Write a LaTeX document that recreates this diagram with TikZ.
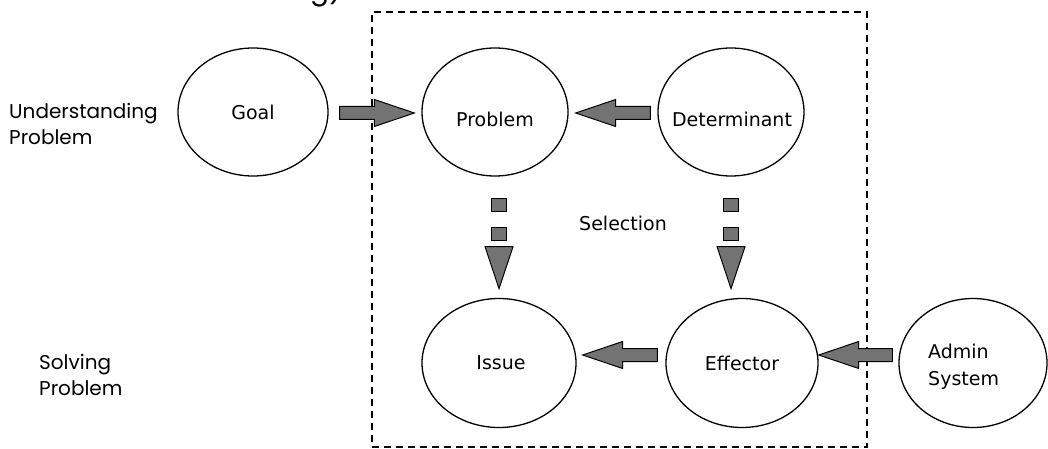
\documentclass[tikz,border=0pt]{standalone}
\usepackage{fontspec}
\usetikzlibrary{calc,shapes.geometric}
\newfontfamily\bubblefont{DejaVu Sans}
\newfontfamily\sidefont{Poppins}
\definecolor{arrowgray}{HTML}{737373}

% thick block arrow from tail point #1 to tip point #2
\newcommand\blockarrow[2]{%
  \coordinate (ba-t) at (#1);
  \coordinate (ba-p) at (#2);
  \coordinate (ba-c) at ($(ba-p)!40pt!(ba-t)$);
  \filldraw[arrowbody]
    ($(ba-t)!6.5pt!90:(ba-p)$) -- ($(ba-c)!6.5pt!90:(ba-p)$) --
    ($(ba-c)!13.5pt!90:(ba-p)$) -- (ba-p) --
    ($(ba-c)!13.5pt!-90:(ba-p)$) -- ($(ba-c)!6.5pt!-90:(ba-p)$) --
    ($(ba-t)!6.5pt!-90:(ba-p)$) -- cycle;
}
% broken downward arrow: two squares and a triangle below point #1
\newcommand\brokenarrow[1]{%
  \coordinate (da) at (#1);
  \filldraw[arrowbody] ($(da)+(-7.5,22)$) rectangle ($(da)+(7.5,35)$);
  \filldraw[arrowbody] ($(da)+(-7.5,51)$) rectangle ($(da)+(7.5,64)$);
  \filldraw[arrowbody] ($(da)+(-14,70)$) -- ($(da)+(14,70)$) -- ($(da)+(0,112)$) -- cycle;
}

\begin{document}
\begin{tikzpicture}[x=1pt,y=-1pt,
  bubble/.style={draw, line width=1.3pt, ellipse, inner sep=0pt},
  bubbletext/.style={font=\bubblefont\fontsize{19}{27}\selectfont, align=left, inner sep=0pt},
  sidetext/.style={font=\sidefont\fontsize{20}{26}\selectfont, align=left, inner sep=0pt, anchor=west},
  arrowbody/.style={fill=arrowgray, draw=black, line width=1pt, line join=miter},
  frame/.style={draw, dashed, dash pattern=on 7pt off 5pt, line width=1.3pt}]
\useasboundingbox (0,0) rectangle (1048,449);

% dashed selection frame
\node[frame, minimum width=495pt, minimum height=435pt, inner sep=0pt] (sel) at (619.5,229.5) {};

% caption remnant at the top edge
\node[font=\sidefont\fontsize{28}{30}\selectfont, anchor=base east, inner sep=0pt] (cap) at (342,0) {g)};

% bubbles
\node[bubble, minimum width=150pt, minimum height=128pt] (goal) at (253,112) {};
\node[bubble, minimum width=146pt, minimum height=128pt] (problem) at (495,112) {};
\node[bubble, minimum width=146pt, minimum height=128pt] (determinant) at (731,112) {};
\node[bubble, minimum width=154pt, minimum height=129pt] (issue) at (499,363) {};
\node[bubble, minimum width=152pt, minimum height=129pt] (effector) at (742,363) {};
\node[bubble, minimum width=148pt, minimum height=129pt] (admin) at (973,363) {};

% bubble labels
\node[bubbletext] (goal-l) at (goal.center) {Goal};
\node[bubbletext] (problem-l) at ($(problem.center)+(0,7)$) {Problem};
\node[bubbletext] (determinant-l) at ($(determinant.center)+(1,7)$) {Determinant};
\node[bubbletext] (issue-l) at ($(issue.center)+(2,0)$) {Issue};
\node[bubbletext] (effector-l) at (effector.center) {Effector};
\node[bubbletext, anchor=west] (admin-l) at (928,367) {Admin\\System};
\node[bubbletext] (selection) at (623,223) {Selection};

% side labels
\node[sidetext] (understand) at (9,124) {Understanding\\Problem};
\node[sidetext] (solving) at (39,375) {Solving\\Problem};

% block arrows
\blockarrow{$(goal.east)+(11,1)$}{$(problem.west)+(-7,1)$}
\blockarrow{$(determinant.west)+(-7,1)$}{$(problem.east)+(7,1)$}
\blockarrow{$(effector.west)+(-8,-8)$}{$(issue.east)+(6,-8)$}
\blockarrow{$(admin.west)+(-6,-8)$}{$(effector.east)+(0,-8)$}

% broken arrows down to the lower row
\brokenarrow{issue.north |- problem.south}
\brokenarrow{determinant.south}
\end{tikzpicture}
\end{document}
